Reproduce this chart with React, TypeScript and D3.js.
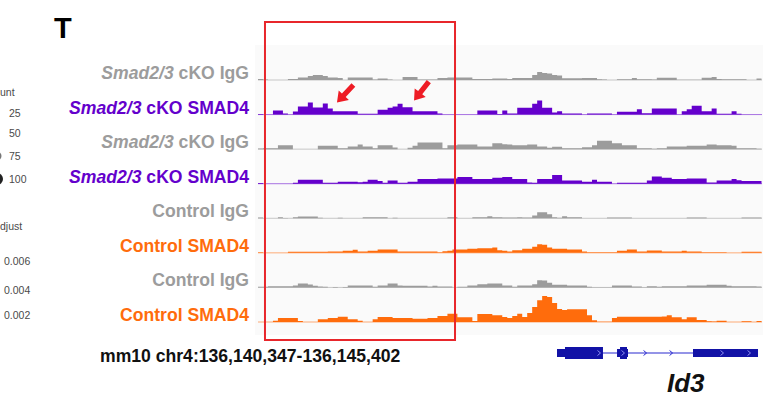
import * as d3 from "d3";

const regionStart = 136140347;
const regionEnd = 136145402;
const binSize = 50;

const trackNames = [
  "Smad2/3 cKO IgG",
  "Smad2/3 cKO SMAD4",
  "Smad2/3 cKO IgG",
  "Smad2/3 cKO SMAD4",
  "Control IgG",
  "Control SMAD4",
  "Control IgG",
  "Control SMAD4",
];
const trackColors = ["#9c9c9c", "#6400cc", "#9c9c9c", "#6400cc", "#9c9c9c", "#ff6c0c", "#9c9c9c", "#ff6c0c"];

// coverage per 50 bp bin
const koIgg1 = [
  1, 0.5, 0, 0, 0, 0, 1, 1, 2.5, 2.5,
  4, 5, 5, 4, 2.5, 2.5, 2, 0, 2.5, 2.5,
  2.5, 2.5, 2.5, 0.5, 1.5, 1.5, 0.5, 0, 0, 3,
  3, 3, 0.5, 0.5, 0.5, 0.5, 2, 2, 2.5, 2.5,
  2.5, 2.5, 2.5, 1, 1, 1, 1, 1.5, 1.5, 1.5,
  1, 2, 2, 2, 2, 5, 8, 7, 6.5, 5,
  4.5, 1.7, 1.7, 1.7, 1.7, 2, 2, 2, 0.7, 0.5,
  0, 0, 0.7, 0.7, 0.7, 2, 0.7, 0.7, 0.7, 0.5,
  2.3, 2.3, 2.3, 2.3, 0.3, 0.3, 0.3, 0.3, 0.3, 2.3,
  2.3, 3, 1, 0.7, 0.7, 0.7, 0.7, 0.7, 0, 0,
  1.5,
];
const koSmad4a = [
  0.5, 0, 0, 4, 4, 1, 0, 3, 8, 8,
  12, 7, 7, 11, 6, 3.3, 3.3, 3.3, 3.3, 3.3,
  0.7, 0.7, 0.7, 0.7, 4.7, 4.7, 6.7, 8, 10.7, 7.3,
  7.3, 3.3, 3.3, 3.3, 3.3, 3.3, 1, 0, 0, 0,
  0, 0, 0, 0, 4, 4, 4, 4, 0.5, 4,
  1, 1, 6.7, 6.7, 6.7, 10.7, 14, 6.7, 6.7, 2,
  3.3, 1, 1, 1, 1, 0, 1, 1, 1, 1,
  1, 0, 2.7, 2.7, 2.7, 2.7, 5.3, 1.3, 1.3, 6,
  6, 6, 6, 6, 0, 3.3, 5.3, 8.7, 8.7, 3.3,
  3.3, 6, 0.7, 0.7, 0.7, 3.3, 0.7, 0, 0, 0,
  0,
];
const koIgg2 = [
  0.7, 1, 1, 1, 4, 4, 4, 0, 0, 0,
  0, 0, 3.3, 3.3, 3.3, 3.3, 1, 1, 2.7, 2.7,
  4.7, 2.7, 2.7, 1, 4, 4, 4, 1.7, 0, 0,
  1.5, 3.3, 6.7, 6.7, 6.7, 6.7, 6.7, 1, 4, 4,
  4.7, 4.7, 4.7, 4.7, 2.7, 2.7, 2.7, 6, 6, 5,
  4.7, 4, 4, 4, 4.7, 4.7, 2.7, 2.7, 1.5, 2.3,
  2.3, 1, 1, 1, 1, 2, 2, 4, 8.3, 8.3,
  8.3, 6, 6, 4, 4, 4, 1, 1, 1, 0.3,
  1, 1, 2.7, 2.7, 2.7, 2.7, 3.3, 3.3, 3.3, 3.3,
  4.7, 4.7, 4, 4, 4, 3.3, 1, 1, 1, 1,
  0.5,
];
const koSmad4b = [
  0.7, 0, 0, 0, 0, 0, 0, 1, 4, 4,
  4, 4, 4, 1, 1, 1, 2, 2, 2, 2,
  1.5, 2, 4, 4, 2.7, 1, 3.3, 3.3, 1, 1,
  2, 2, 4.7, 4.7, 4.7, 4.7, 5.3, 5.3, 5.3, 5.3,
  6.7, 6.7, 6.7, 4.7, 4.7, 4.7, 4.7, 6, 6, 6.7,
  6.7, 4.7, 4.7, 4.7, 1.3, 1, 4.7, 4.7, 4.7, 8.7,
  8.7, 3.3, 3.3, 3.3, 3.3, 2, 2, 4, 2, 2,
  2, 0, 1, 1, 1, 1, 1, 1, 3.3, 7.3,
  7.3, 6, 6, 4.7, 4.7, 4.7, 5.3, 5.3, 5.3, 5.3,
  1.3, 1.3, 3.3, 3.3, 3.3, 4.7, 3.5, 2.7, 2.7, 2.7,
  2.7,
];
const ctrlIgg1 = [
  0.7, 0, 0, 0, 1, 0.3, 0, 1, 1.7, 1.7,
  1.7, 1.7, 0.5, 0, 0, 0, 0.5, 0, 0, 0,
  0, 1, 1, 1, 1, 1, 0, 0.5, 0, 0,
  0, 0, 0, 0, 0, 0, 0, 0, 1, 1,
  0, 0, 0, 1, 1, 1, 2, 1, 1, 0.7,
  0.7, 0.7, 1, 0.7, 0.7, 2.7, 6, 6, 4, 1,
  0.5, 2, 1, 1, 1, 0, 0, 0, 0, 0,
  0.7, 0.7, 0.7, 0.7, 0.7, 0, 0, 0, 0, 0,
  0, 0, 0, 0, 0, 0, 0.7, 0.7, 0.7, 0.7,
  0, 0, 0, 0, 0, 0, 0, 0.7, 0.7, 0.7,
  0.7,
];
const ctrlSmad4a = [
  0.7, 0, 0, 0, 0, 0, 1, 1, 1, 1,
  1, 1, 1, 1, 1.3, 1.3, 1.3, 2, 2, 3,
  1.3, 1.3, 2, 2, 3.3, 3.3, 3.3, 3.3, 1.3, 1.3,
  1.3, 1.3, 1.3, 1.3, 1.3, 1.3, 0.7, 1.5, 2, 3.3,
  3.3, 3.3, 4, 4, 4.7, 4.7, 4.7, 5.3, 2.7, 2,
  1.3, 2.7, 2.7, 4, 4, 6, 8.7, 8, 5.3, 4,
  4, 4, 3.3, 3.3, 3.3, 1.3, 0.7, 0.7, 0.7, 0.7,
  0.7, 0.7, 2, 2, 3.3, 3.3, 1.3, 1.3, 2.3, 2.3,
  2.3, 1.3, 1.3, 1.3, 1.3, 2, 1.3, 1.3, 1.3, 0.7,
  0.7, 0.7, 0.7, 0.7, 0, 0, 0, 1, 1, 1,
  1,
];
const ctrlIgg2 = [
  0.7, 0.7, 1.3, 1.3, 1.3, 1.3, 1.3, 2, 4, 4,
  3, 1.7, 1, 0.7, 0, 0.5, 0, 0.5, 2, 2,
  2, 2, 2, 0.7, 2, 2, 4, 4, 2, 1.7,
  1.7, 1.7, 1.7, 1.7, 1, 1.7, 1, 1, 1, 0,
  0.7, 0.7, 2, 2, 3.3, 3.3, 4, 4, 4, 2,
  2, 0.7, 2, 2, 2, 3.3, 7.3, 7, 4.7, 2.7,
  2.7, 2.7, 2, 2, 2, 2, 0.7, 0.2, 0.2, 0.2,
  0.2, 2, 2, 2, 2, 1, 1, 0.2, 1.3, 1.3,
  0.7, 1.3, 1.3, 1.3, 1.3, 1.3, 2, 2, 2, 2,
  2.7, 2.7, 2.7, 2.7, 1.7, 1.3, 1.3, 1.3, 1.3, 1.3,
  1,
];
const ctrlSmad4b = [
  0, 0, 0, 1.3, 4, 4, 4, 4, 1, 0,
  0, 0, 2.7, 2.7, 4, 4, 5.3, 5.3, 2.7, 2.7,
  1.3, 0, 0, 2.7, 5, 5, 5, 4, 4, 4,
  4, 3.3, 3.3, 3.3, 4, 4, 6, 6, 8.3, 8.3,
  4.7, 4.7, 4.7, 1, 8, 8, 8, 6.7, 6.7, 5,
  4, 6, 8.3, 5, 9, 15, 21.7, 26, 25, 19,
  13, 12, 12.7, 12.7, 12.7, 12.7, 6.7, 1.7, 0.3, 0.3,
  0.3, 4, 5.3, 5.3, 5.3, 5.3, 5.3, 5.3, 5.3, 5.3,
  5.3, 5.5, 6.7, 4.7, 4.7, 2.7, 4.7, 4.7, 2, 2,
  0.7, 0.5, 1.3, 1.3, 0, 0, 0, 0.7, 0.7, 0,
  1,
];
const coverage = [koIgg1, koSmad4a, koIgg2, koSmad4b, ctrlIgg1, ctrlSmad4a, ctrlIgg2, ctrlSmad4b];

const highlight = [136140417, 136142323];
// arrows on the first Smad2/3 cKO SMAD4 track: [position, signal at tip]
const arrowMarks: [number, number][] = [
  [136141139, 12],
  [136141912, 14],
];
const arrowAngles = [-46.8, -52];

// Id3 gene model: [start, end, coding?]
const id3Exons: [number, number, boolean][] = [
  [136143346, 136143426, false],
  [136143426, 136143807, true],
  [136143948, 136143978, false],
  [136143978, 136144048, true],
  [136144048, 136144058, false],
  [136144710, 136145362, false],
];
const id3Chevrons = [136143767, 136144008, 136144229, 136144490, 136145001, 136145272];

// what is left visible of the neighbouring panel's legends
const countTitle = "unt";
const countLabels = ["25", "50", "75", "100"];
const countRadius = [1.5, 3, 4.5, 6];
const pAdjustTitle = "djust";
const pAdjustLabels = ["0.006", "0.004", "0.002"];

const font = "'Liberation Sans', Arial, sans-serif";

export default function App() {
  const x = d3.scaleLinear().domain([regionStart, regionEnd]).range([258, 762]);
  const signal = d3.scaleLinear().domain([0, 30]).range([0, 30]);
  const trackY = d3.scalePoint<number>().domain(d3.range(trackNames.length)).range([80, 322]);
  const binPos = (i: number) => regionStart + i * binSize;

  const areaFor = (base: number) =>
    d3
      .area<number>()
      .x((_, i) => x(binPos(i)))
      .y0(base)
      .y1((v) => base - signal(v))
      .curve(d3.curveStepAfter);

  const geneY = 353;
  const arrowShape = "M0,0 L10,-7 L10,-2.6 L24,-2.6 L24,2.6 L10,2.6 L10,7 Z";

  return (
    <svg
      width={776}
      height={402}
      style={{ position: "absolute", left: 0, top: 0, background: "#fff" }}
      fontFamily={font}
    >
      <rect x={0} y={0} width={776} height={402} fill="#fff" />
      <rect x={255} y={45} width={508} height={290} fill="#fafafa" />

      <text x={54} y={38} fontSize={29} fontWeight="bold" fill="#000">
        T
      </text>

      <g fill="#4a4a4a" fontSize={10.5}>
        <text x={0} y={96}>{countTitle}</text>
        {countLabels.map((c, i) => (
          <g key={c}>
            <circle cx={-3} cy={[113, 133, 156, 179][i]} r={countRadius[i]} fill={i === 3 ? "#222" : "#777"} />
            <text x={9} y={[117, 137, 160, 183][i]}>{c}</text>
          </g>
        ))}
        <text x={0} y={230}>{pAdjustTitle}</text>
        {pAdjustLabels.map((p, i) => (
          <text key={p} x={4} y={[265, 294, 319][i]}>{p}</text>
        ))}
      </g>

      {trackNames.map((name, t) => {
        const base = trackY(t) as number;
        const values = coverage[t];
        const italic = name.startsWith("Smad2/3");
        return (
          <g key={t}>
            <text x={249} y={base - 1} textAnchor="end" fontSize={17.6} fontWeight="bold" fill={trackColors[t]}>
              {italic ? (
                <>
                  <tspan fontStyle="italic">Smad2/3</tspan>
                  {name.slice(7)}
                </>
              ) : (
                name
              )}
            </text>
            <line
              x1={x(regionStart)}
              x2={x(regionEnd)}
              y1={base}
              y2={base}
              stroke={trackColors[t]}
              strokeOpacity={0.55}
              strokeWidth={1}
            />
            <path d={areaFor(base)([...values, values[values.length - 1]]) ?? ""} fill={trackColors[t]} />
          </g>
        );
      })}

      {arrowMarks.map(([pos, v], i) => (
        <path
          key={pos}
          d={arrowShape}
          fill="#ee1c25"
          transform={`translate(${x(pos)},${(trackY(1) as number) - signal(v)}) rotate(${arrowAngles[i]})`}
        />
      ))}

      <rect
        x={x(highlight[0])}
        y={22}
        width={x(highlight[1]) - x(highlight[0])}
        height={318}
        fill="none"
        stroke="#e8262b"
        strokeWidth={2}
      />

      <text x={100} y={362} fontSize={17.6} fontWeight="bold" fill="#111">
        mm10 chr4:136,140,347-136,145,402
      </text>

      <g>
        <line
          x1={x(id3Exons[0][0])}
          x2={x(id3Exons[id3Exons.length - 1][1])}
          y1={geneY}
          y2={geneY}
          stroke="#2a2ad0"
          strokeWidth={1.2}
        />
        {id3Exons.map(([s, e, coding]) => {
          const h = coding ? 12 : 8;
          return <rect key={s} x={x(s)} y={geneY - h / 2} width={x(e) - x(s)} height={h} fill="#1212a6" />;
        })}
        {id3Chevrons.map((c) => {
          const inside = id3Exons.some(([s, e]) => c > s && c < e);
          return (
            <path
              key={c}
              d={`M${x(c) - 1.5},${geneY - 2.5} L${x(c) + 1.5},${geneY} L${x(c) - 1.5},${geneY + 2.5}`}
              fill="none"
              stroke={inside ? "#8c8cf0" : "#2a2ad0"}
              strokeWidth={1}
            />
          );
        })}
      </g>

      <text x={667} y={392} fontSize={26} fontWeight="bold" fontStyle="italic" fill="#111">
        Id3
      </text>
    </svg>
  );
}
